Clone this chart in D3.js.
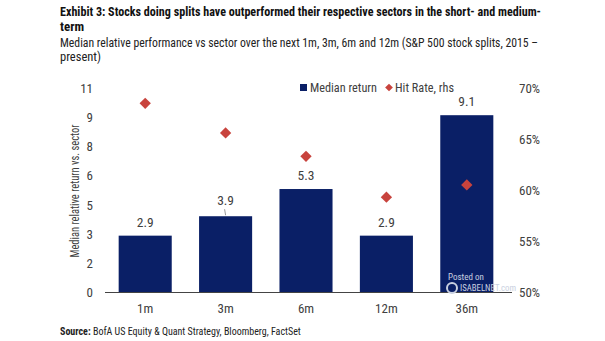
<!DOCTYPE html>
<html><head><meta charset="utf-8">
<script src="https://cdn.jsdelivr.net/npm/d3@7"></script>
<style>body{margin:0;background:#fff}svg{display:block}text{font-family:"Liberation Sans Narrow","Roboto Condensed","Liberation Sans",Arial,sans-serif}</style>
</head><body><svg id="c" width="605" height="341"></svg>
<script>
const categories = ["1m","3m","6m","12m","36m"];
const medianReturn = [2.9,3.9,5.3,2.9,9.1];
const hitRate = [68.5,65.6,63.3,59.3,60.5];
const leftTickValues = [0,1.5,3,4.5,6,7.5,9,10.5];
const leftTickLabels = ["0","2","3","5","6","8","9","11"];
const rightTickValues = [50,55,60,65,70];
const rightTickLabels = ["50%","55%","60%","65%","70%"];

const svg = d3.select("#c");
const x = d3.scaleBand().domain(categories).range([105,507]).paddingInner(0.34).paddingOuter(0.17);
const yL = d3.scaleLinear().domain([0,10.5]).range([292,88]);
const yR = d3.scaleLinear().domain([50,70]).range([292,88]);
const navy="#0a1f66", red="#c8433d", txt="#404040";

// titles
svg.append("text").attr("x",60).attr("y",16).attr("font-weight","bold").attr("font-size",13).attr("fill","#111")
  .attr("textLength",481).attr("lengthAdjust","spacingAndGlyphs")
  .text("Exhibit 3: Stocks doing splits have outperformed their respective sectors in the short- and medium-");
svg.append("text").attr("x",60).attr("y",31).attr("font-weight","bold").attr("font-size",13).attr("fill","#111").text("term");
svg.append("text").attr("x",60).attr("y",47).attr("font-size",12.5).attr("fill","#222")
  .attr("textLength",478).attr("lengthAdjust","spacingAndGlyphs")
  .text("Median relative performance vs sector over the next 1m, 3m, 6m and 12m (S&P 500 stock splits, 2015 –");
svg.append("text").attr("x",60).attr("y",61).attr("font-size",12.5).attr("fill","#222").text("present)");

// bars
svg.selectAll("rect.bar").data(categories).join("rect").attr("class","bar")
  .attr("x",d=>x(d)).attr("width",x.bandwidth())
  .attr("y",(d,i)=>yL(medianReturn[i])).attr("height",(d,i)=>yL(0)-yL(medianReturn[i]))
  .attr("fill",navy);

// value labels
svg.selectAll("text.val").data(categories).join("text").attr("class","val")
  .attr("x",d=>x(d)+x.bandwidth()/2)
  .attr("y",(d,i)=>yL(medianReturn[i])-(i===1?11:9))
  .attr("text-anchor","middle").attr("font-size",13.5).attr("fill",txt)
  .text((d,i)=>medianReturn[i].toFixed(1));
svg.append("line").attr("x1",x("3m")+x.bandwidth()/2-1).attr("x2",x("3m")+x.bandwidth()/2)
  .attr("y1",yL(medianReturn[1])-7).attr("y2",yL(medianReturn[1])-1).attr("stroke","#999").attr("stroke-width",1);

// axis line
svg.append("line").attr("x1",105).attr("x2",512).attr("y1",292.5).attr("y2",292.5).attr("stroke","#444").attr("stroke-width",1.2);

// diamonds
const dsym = d3.symbol().type(d3.symbolSquare).size(64);
svg.selectAll("path.hr").data(categories).join("path").attr("class","hr")
  .attr("d",dsym).attr("fill",red)
  .attr("transform",(d,i)=>`translate(${x(d)+x.bandwidth()/2},${yR(hitRate[i])}) rotate(45)`);

// ticks
svg.selectAll("text.lt").data(leftTickValues).join("text").attr("class","lt")
  .attr("x",93).attr("y",d=>yL(d)+5).attr("text-anchor","end").attr("font-size",13).attr("fill",txt)
  .text((d,i)=>leftTickLabels[i]);
svg.selectAll("text.rt").data(rightTickValues).join("text").attr("class","rt")
  .attr("x",519).attr("y",d=>yR(d)+5).attr("font-size",13).attr("fill",txt)
  .text((d,i)=>rightTickLabels[i]);
svg.selectAll("text.xl").data(categories).join("text").attr("class","xl")
  .attr("x",d=>x(d)+x.bandwidth()/2).attr("y",313).attr("text-anchor","middle").attr("font-size",13).attr("fill",txt)
  .text(d=>d);

// y title
svg.append("text").attr("transform","translate(79,191) rotate(-90)").attr("text-anchor","middle")
  .attr("font-size",13.5).attr("fill",txt).attr("textLength",133).attr("lengthAdjust","spacingAndGlyphs")
  .text("Median relative return vs. sector");

// legend
svg.append("rect").attr("x",300).attr("y",84).attr("width",7).attr("height",7).attr("fill",navy);
svg.append("text").attr("x",310).attr("y",92).attr("font-size",13).attr("fill",txt).attr("textLength",67).attr("lengthAdjust","spacingAndGlyphs").text("Median return");
svg.append("path").attr("d",d3.symbol().type(d3.symbolSquare).size(30)).attr("fill",red).attr("transform","translate(389,87.5) rotate(45)");
svg.append("text").attr("x",395).attr("y",92).attr("font-size",13).attr("fill",txt).attr("textLength",59).attr("lengthAdjust","spacingAndGlyphs").text("Hit Rate, rhs");

// source
const s = svg.append("text").attr("x",60).attr("y",335).attr("font-size",10).attr("fill","#222");
s.append("tspan").attr("font-weight","bold").text("Source:");
s.append("tspan").text(" BofA US Equity & Quant Strategy, Bloomberg, FactSet");

// watermark
svg.append("text").attr("x",448).attr("y",280).attr("font-family","Liberation Sans, Arial").attr("font-size",9).attr("fill","#c9d0e0").text("Posted on");
svg.append("circle").attr("cx",452).attr("cy",288).attr("r",5).attr("fill","none").attr("stroke","#c9d0e0").attr("stroke-width",2);
svg.append("text").attr("x",460).attr("y",291).attr("font-family","Liberation Sans, Arial").attr("font-size",9.5).attr("fill","#c9d0e0").attr("textLength",56).attr("lengthAdjust","spacingAndGlyphs").text("ISABELNET.com");
</script></body></html>
